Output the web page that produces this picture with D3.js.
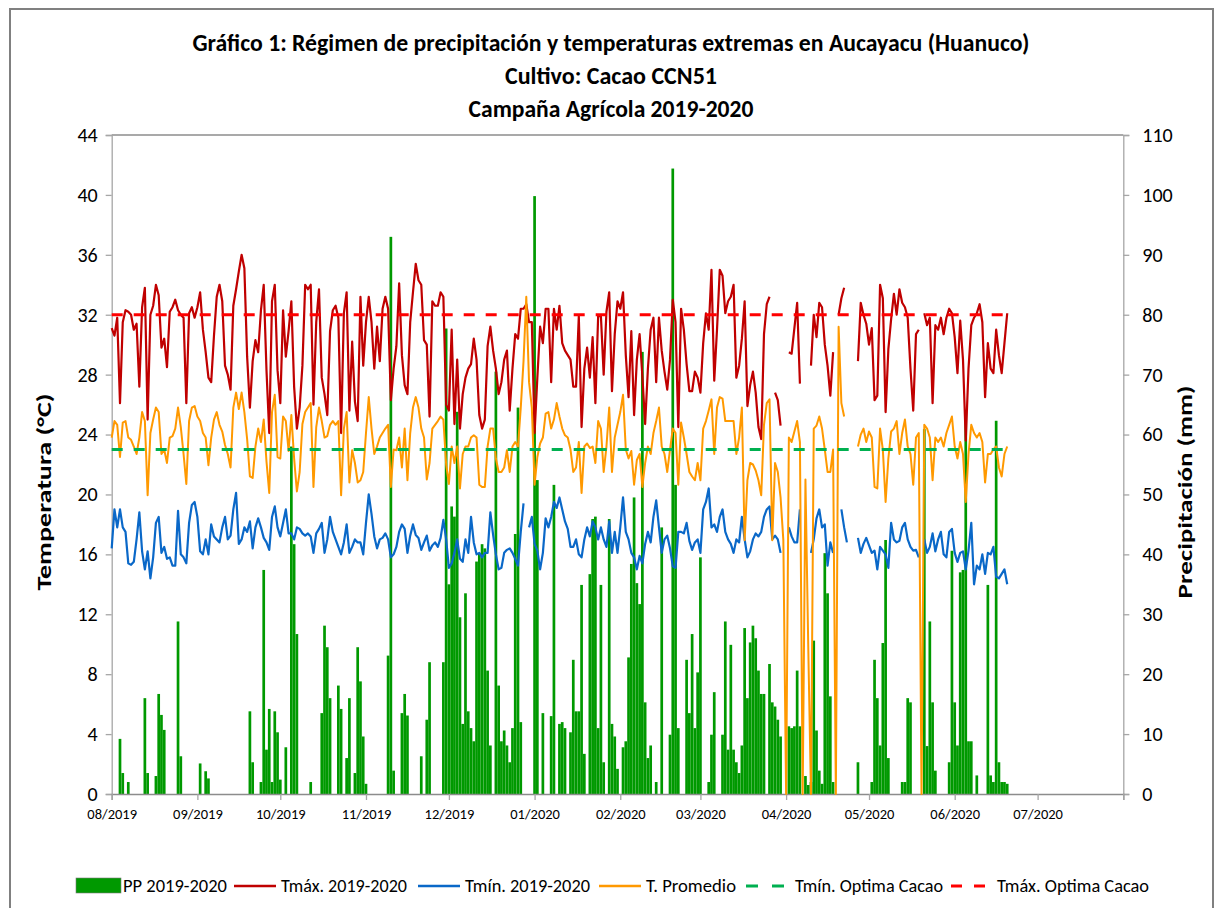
<!DOCTYPE html>
<html><head><meta charset="utf-8">
<script src="https://cdn.jsdelivr.net/npm/d3@7"></script>
<style>
body{margin:0;background:#fff}
text{font-family:Carlito,'Liberation Sans Narrow','Arial Narrow','DejaVu Sans Condensed',sans-serif;fill:#000}
</style>
</head><body>
<svg id="c" width="1218" height="908"></svg>
<script>
// ---------- DATA (daily, from 2019-08-01) ----------
const startDate = "2019-08-01";
const endDate = "2020-08-01";
const tmax = [
 31.1,30.6,31.8,26.1,31.5,32.3,32.2,32,31,31.4,27.2,32.5,33.8,25,32,32.6,34,33.3,29.8,30.4,28.5,32.2,32.5,33,32.3,32,31.8,26.1,32.1,32.5,31.8,
 32.5,33.5,31,29.5,27.8,27.5,30.6,33.2,34,32.9,28.6,28,27,32.6,33.7,34.9,36,35.1,29.2,25.8,28.9,30.3,29.5,32.3,34,28.3,24.1,32.9,34,28.3,
 26.1,32.3,29.2,30.9,32.9,27.2,24.4,25.8,28.6,34,33.7,34,26,31.5,33.7,27.8,26.7,25.3,30.9,32.3,32.6,31.8,24.1,32.1,33.5,25.6,30.2,26.2,24.9,33.2,28.6,
 31.5,33.2,31.5,28.4,31.2,28.9,32.4,33.2,32.4,26.3,28.4,29.9,34.1,29.3,27.3,26.7,31.5,33.5,35.4,34.3,34,30.3,30,25.2,32.9,32.6,32.6,33.5,33.2,26,
 25.6,31,24.7,29,24.4,26.7,27.8,28.4,28.7,30.4,29,25.3,24.4,25,29.9,31.2,29.6,28.4,26.7,27.5,29,29.6,25.6,28.4,30.7,30.4,32.4,32.4,32.7,31.5,31.5,
 24.1,27.8,31.2,30.1,32.4,32.4,27.5,32.4,31,32.6,30.1,29.6,29.3,29,27.2,27.2,31.9,24.5,28.4,29.8,27.8,30.5,26.1,31.9,31.9,28,32.2,33.5,26.9,30.7,32.9,
 32.4,33.5,29.3,26.5,30.9,25.3,29,30.7,27.9,24.7,28.4,31,31.8,27.5,31.8,29.6,28.2,27,29,33,31.5,24.5,32.4,31,28.7,26.9,26.9,28.2,27.8,
 26.8,30.1,32.1,31,35,27.6,31,35,34.6,32.1,32.9,33.2,34,27.8,28.6,30.4,32.9,25.9,27.3,28.2,26.8,24.5,23.7,30.7,32.7,33.2,null,26.8,26.3,24.6,null,
 null,29.5,29.4,31.1,32.8,27.4,null,null,null,28.6,32,30.5,32.8,32.5,30,28.6,26.6,29.5,null,32,33.1,33.8,null,null,null,null,28.9,32.8,32,31.4,
 30,31.1,26.3,26.6,34,33.1,25.5,29.7,31.7,33.4,32,33.7,32.8,32.5,31.8,28.4,25.6,30.7,31,null,32.1,31.3,31.8,26.1,31.3,31,31.8,30.7,31.8,32.4,32.1,
 30.5,28.1,31.6,29,23.6,28.4,31.3,31.8,32.1,32.7,31.5,26.5,30.1,28.4,28.1,31,29.3,28.1,30.1,32.1
];
const tmin = [
 16.4,19,17.8,19,17.8,17.5,15.4,15.3,15.5,17,18.8,16.2,15,16.2,14.4,15.8,18.1,18.5,16.1,16.5,15.7,15.8,15.25,15.25,18.9,16,15.8,15.4,18.1,19.3,19.5,
 18.5,16.2,16,17,16,18,17.2,17,16.8,17.8,18.5,17,17.25,19,20.1,16.7,17,17.8,17.5,18.2,16.4,17.8,18.4,17.8,17.1,16.8,16.3,18.5,19.2,17.8,
 17.2,18.1,19,17.4,17.4,17,17.8,17.7,17.4,17.25,17.4,17.2,16.1,17.4,17.7,18.1,16.1,17,18.5,17.5,17,16.5,16,16.8,18,16.1,16.5,17,16.8,16.8,16,
 18.1,20,18.7,17.2,16.4,17,17.1,17.4,17,15.8,16,16.5,17.5,18,17.7,16.1,17.25,18,17.3,17.1,16.3,16.8,17.25,16.25,16.6,16.8,16.5,17.1,18.3,17,
 15.1,15.4,16.1,17,15.7,15.5,17,16.1,18.5,16.8,16,16.1,15.8,16.1,16.1,18.8,17.3,16,15,15.1,16.1,16.3,16.4,16.1,15.7,15.25,17.5,19.4,null,17.8,18.5,
 16.7,16.25,15,16.1,18.4,17.8,18.5,19.5,19.1,19.8,19,18.2,17.7,16.5,16.5,17,16,15.8,17,17.8,17.2,18.2,17.8,17,17.8,17,16.5,18.2,16.1,17.5,16.1,
 17.8,19.8,17.5,17,16.1,15.8,15,15.9,15.4,16.7,17.5,16.8,18.5,19.6,17.8,16.1,17,17.25,16.4,15.2,15.1,17.5,17.5,17.4,18.1,16.9,16.3,16.8,17,
 16.1,19,19.5,20.4,17.8,18,17.5,18.5,19,17.5,17,16.7,16.1,17,16.8,18.5,17,15.8,16.2,17,17.4,17.2,17.5,18.5,19,19.2,17,17.25,17,16.1,null,
 null,17.8,17.2,16.8,16.8,19,null,null,null,16.1,17,18.4,19,17.8,18,15.25,16.8,16.1,null,null,19,17.8,16.8,null,null,null,17.1,16.1,16.7,17.1,
 16.6,16.1,16.25,15,16.5,16.25,16,15.1,18.1,17,16.8,16.9,17.8,18.1,17,16.5,16.25,16.3,15.8,null,17,16.1,16.5,17.4,16.2,17,17.5,16,15.8,17.5,17.7,
 16.1,15.5,16.1,16.2,15,16.25,18.1,14,15.25,15,16,14.7,16.1,16,16.5,14.5,14.4,14.7,15,14
];
const tavg = [
 23.8,24.9,24.65,22.5,24.8,24.9,23.8,23.65,23.2,22.7,23.8,25.5,24.9,19.95,24.1,25,25.8,25.5,22.7,23,22.1,23.8,23.9,24.4,25.8,24.5,22.7,20.7,24.9,25.8,25.9,
 25.2,24.9,24.1,23.8,21.95,23.8,25,25.5,24.65,24.2,23.3,22.7,21.8,25.8,26.8,25.7,26.8,25.5,23.7,21.2,21.1,23.2,24.4,23.5,25,22.2,20.1,25.5,26.65,22.5,
 22.4,25.2,24.9,22.9,25.3,22.4,20.2,21.5,24.7,25.5,25.8,26.1,20.5,24.5,25.8,24.9,23.8,23.9,24.65,24.9,24.65,24.9,19.95,24.4,25.5,20.8,22.95,22.1,20.8,20.95,21.5,
 24.1,26.5,24.4,22.7,23.2,23.8,24.1,24.4,24.65,20.5,23,22.95,23.8,21.8,24.4,20.95,24.1,25.8,26.5,25.8,24.4,23.8,21,22.1,24.4,24.65,24.9,25.2,25,22,
 20.7,23.2,22.1,23.2,20.4,22.7,23.2,23.2,23.8,23.95,23.8,20.65,20.5,20.5,23.2,24.4,24.4,22.4,21.5,21.5,21.8,22.95,21.5,23.2,23.5,23.2,25.8,28.9,33.2,27.5,25.8,
 20.65,22.5,23.4,23.8,25.4,25.5,24.4,25,26.1,25.2,24.4,23.95,23.8,23,21.5,21.8,23.5,20.1,23.2,23.4,23.1,23.2,22.1,24.9,24.4,21.5,23.2,25.8,21.5,23.8,24.65,
 25.5,26.65,23,22.4,22.9,20.65,22.3,22.7,20.5,22.1,23.2,22.7,24.1,24.9,25.8,23.2,22.7,21.5,23,24.4,24.1,20.65,24.8,23.8,22.7,21.5,21.2,20.95,22.1,
 20.95,24.4,24.9,25.6,26.35,22.7,25.8,26.5,26.4,24.9,24.9,24.9,24.9,22.7,23.8,25.8,16.95,20.95,22.1,22,21.6,20.95,19.95,24.65,26.1,26.35,16.95,22.1,21.5,19.8,16.95,
 0,23.8,23.5,24.2,24.9,23.5,0,21,10,0,24.4,24.6,25.2,24.4,23,21.5,21.5,23,0,31.2,26.1,25.2,null,null,null,null,23.2,24,24.4,23.5,
 24.2,23.8,20.5,20.4,24.4,23,19.5,22.4,24.2,24.4,24.9,22.7,24.1,25,23.2,22.7,20.65,23.8,24.1,0,24.65,24.4,23.8,20.95,23.8,23.5,23.8,23.2,24.1,24.65,25.2,
 23.2,22.4,23.5,22.7,19.5,22.7,24.65,24.1,23.8,24.1,23.5,20.8,22.7,22.7,23,23.2,21.8,21.2,22.7,23.2
];
const pp = [
 0,0,0,9.2,3.5,0,2,0,0,0,0,0,16,3.5,0,0,3,16.7,13.2,10.7,0,0,0,0,28.8,6.3,0,0,0,0,0,
 0,5.1,0,3.8,2.6,0,0,0,0,0,0,0,0,0,0,0,0,0,0,13.8,5.3,0,0,2,37.4,7.4,14.2,2,13.8,10.3,
 2.4,0,7.8,0,58,41.7,26.7,0,0,0,0,2,0,0,0,13.5,28.1,24.5,16,0,0,18.1,14.2,0,6,16,0,3.5,24.5,18.8,9.6,
 1.7,0,0,0,0,0,0,0,23.1,93,3.9,0,0,13.5,16.7,13.1,0,0,0,0,6.3,0,12.4,22,0,0,0,0,22,77.7,
 35,48,46.3,63.8,29.5,11.7,33.5,13.8,11,8.8,38.8,40.2,41.7,41,20.6,8.1,0,70.5,18.1,8.8,10.6,8.1,5.3,11,43.4,64.5,12,0,0,0,0,
 99.8,52.4,0,13.5,0,0,13,51.6,0,11.7,12,11,0,10.3,22.4,13.8,13.8,34.9,6.7,0,36.7,45.9,46.3,11,34.9,5.3,0,45.9,11.7,9.6,4.2,
 0,7.8,8.8,22.8,38.4,49.5,35.2,31.7,73.8,15.3,6,8.1,0,2,0,44.5,0,0,9.9,104.4,51.6,11,0,0,22.4,13.5,26.7,11,20.3,
 39.5,0,0,2,9.9,17,0,0,9.9,28.8,7.4,24.9,7.4,5.3,3.5,8.1,27.7,16,25.3,28.1,26,20.6,16.7,16.7,0,21.7,15.3,14.6,12.4,9.6,0,
 0,11.3,11,11.3,20.6,11.3,0,3,1.5,2,25.6,10.6,3.9,1.7,40.2,33.5,16.3,2,0,0,0,0,0,0,0,0,5.3,0,0,0,
 0,2,22.4,16,8.1,25.2,42.4,6,0,0,0,0,2,2,16,15.3,0,0,0,0,60.9,8,28.8,15.3,3.9,0,0,0,0,5.3,40.6,
 15.3,8.1,37,37.4,63.8,8.8,8.8,0,3.1,0,0,0,34.9,3.1,2,62.3,5.3,2,2,1.7
];
const tminOptima = 23;
const tmaxOptima = 32;
const tempTicks = [0,4,8,12,16,20,24,28,32,36,40,44];
const ppTicks = [0,10,20,30,40,50,60,70,80,90,100,110];
const monthTickLabels = ["08/2019","09/2019","10/2019","11/2019","12/2019","01/2020","02/2020","03/2020","04/2020","05/2020","06/2020","07/2020"];
const titleLines = ["Gráfico 1: Régimen de precipitación y temperaturas extremas en Aucayacu (Huanuco)","Cultivo: Cacao CCN51","Campaña Agrícola 2019-2020"];
const legendLabels = ["PP 2019-2020","Tmáx. 2019-2020","Tmín. 2019-2020","T. Promedio","Tmín. Optima Cacao","Tmáx. Optima Cacao"];

// ---------- CHART ----------
const svg = d3.select("#c");
const parse = d3.utcParse("%Y-%m-%d");
const t0 = parse(startDate), t1 = parse(endDate);
const dates = tmax.map((_, i) => d3.utcDay.offset(t0, i));
const L = 111.7, R = 1123.3, T = 135, B = 794;
const x = d3.scaleUtc().domain([t0, t1]).range([L, R]);
const yT = d3.scaleLinear().domain([0, 44]).range([B, T]);
const yP = d3.scaleLinear().domain([0, 110]).range([B, T]);

// outer frame
svg.append("rect").attr("x",10).attr("y",9).attr("width",1203).attr("height",940)
  .attr("fill","none").attr("stroke","#808080").attr("stroke-width",2);

// titles
const titleY = [51, 84, 117], titleW = [837, 212, 285];
titleLines.forEach((t,i)=>{
  svg.append("text").attr("x",611).attr("y",titleY[i]).attr("text-anchor","middle")
    .attr("font-size",24).attr("font-weight","bold")
    .attr("textLength",titleW[i]).attr("lengthAdjust","spacingAndGlyphs").text(t);
});

// plot frame lines
svg.append("line").attr("x1",L).attr("x2",R).attr("y1",T).attr("y2",T).attr("stroke","#8c8c8c").attr("stroke-width",1.5);

// bars
const pdata = pp.map((v,i)=>({d:dates[i], v}));
svg.append("g").selectAll("rect").data(pdata.filter(d=>d.v>0)).join("rect")
  .attr("x", d=>x(d.d)-1.35).attr("width",2.7)
  .attr("y", d=>yP(d.v)).attr("height", d=>B - yP(d.v))
  .attr("fill","#009900");

// axes
const gl = svg.append("g").attr("transform",`translate(${L},0)`)
  .call(d3.axisLeft(yT).tickValues(tempTicks).tickSize(6).tickPadding(8).tickFormat(d3.format("d")));
const gr = svg.append("g").attr("transform",`translate(${R},0)`)
  .call(d3.axisRight(yP).tickValues(ppTicks).tickSize(6).tickPadding(13).tickFormat(d3.format("d")));
const monthTicks = d3.utcMonth.range(t0, d3.utcDay.offset(t1,1));
const gb = svg.append("g").attr("transform",`translate(0,${B})`)
  .call(d3.axisBottom(x).tickValues(monthTicks).tickSize(6).tickPadding(6)
    .tickFormat((d,i)=> monthTickLabels[i] || ""));
[gl,gr,gb].forEach(g=>{
  g.select(".domain").attr("stroke","#a6a6a6").attr("stroke-width",1.3);
  g.selectAll(".tick line").attr("stroke","#a6a6a6").attr("stroke-width",1.3);
  g.selectAll("text").attr("font-family","Carlito,'Liberation Sans Narrow','Arial Narrow',sans-serif").attr("fill","#000");
});
gb.select(".domain").attr("stroke","#8c8c8c");
gl.selectAll("text").attr("font-size",20);
gr.selectAll("text").attr("font-size",20);
gb.selectAll("text").attr("font-size",14.5).attr("dy","0.9em");

// axis titles
svg.append("text").attr("transform","translate(51,492) rotate(-90)").attr("text-anchor","middle")
  .attr("font-size",20).attr("font-weight","bold").attr("textLength",197).attr("lengthAdjust","spacingAndGlyphs")
  .text("Temperatura (°C)");
svg.append("text").attr("transform","translate(1192,492) rotate(-90)").attr("text-anchor","middle")
  .attr("font-size",20).attr("font-weight","bold").attr("textLength",213).attr("lengthAdjust","spacingAndGlyphs")
  .text("Precipitación (mm)");

// lines
function series(arr){ return arr.map((v,i)=>({d:dates[i], v})); }
const line = d3.line().defined(d=>d.v!=null).x(d=>x(d.d)).y(d=>yT(d.v));
const plotLine = (arr, color, w, dash) => svg.append("path").datum(series(arr))
  .attr("d", line).attr("fill","none").attr("stroke",color).attr("stroke-width",w)
  .attr("stroke-linejoin","round").attr("stroke-dasharray", dash||null);
plotLine(tmax, "#c00000", 2.2);
plotLine(tmin, "#0a68c8", 2.2);
plotLine(tavg, "#ff9900", 2.0);
plotLine(tmax.map(()=>tminOptima), "#00b050", 3, "11,11");
plotLine(tmax.map(()=>tmaxOptima), "#ff0000", 3, "11,11");

// legend
const ly = 886;
const lg = svg.append("g");
lg.append("rect").attr("x",76).attr("y",878).attr("width",45).attr("height",15).attr("fill","#009900").attr("stroke","#7a7a7a").attr("stroke-width",0.6);
const legLines = [
  {x1:234,x2:276,c:"#c00000",dash:null,w:2.4},
  {x1:418,x2:460,c:"#0a68c8",dash:null,w:2.4},
  {x1:599,x2:641,c:"#ff9900",dash:null,w:2.4},
  {x1:746,x2:784,c:"#00b050",dash:"12,14",w:3},
  {x1:951,x2:986,c:"#ff0000",dash:"11,12",w:3}
];
legLines.forEach(l=>lg.append("line").attr("x1",l.x1).attr("x2",l.x2).attr("y1",ly).attr("y2",ly)
  .attr("stroke",l.c).attr("stroke-width",l.w).attr("stroke-dasharray",l.dash));
const legTextX = [123,281,465,646,795,997];
const legTextW = [104,126,125,90,148,152];
legendLabels.forEach((t,i)=>lg.append("text").attr("x",legTextX[i]).attr("y",ly+6)
  .attr("font-size",18.5).attr("textLength",legTextW[i]).attr("lengthAdjust","spacingAndGlyphs").text(t));
</script>
</body></html>
